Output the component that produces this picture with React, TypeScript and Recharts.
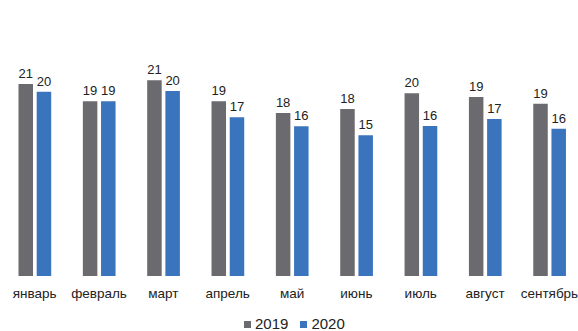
import React from "react";
import { BarChart, Bar, XAxis, YAxis, LabelList } from "recharts";

const months = ["январь", "февраль", "март", "апрель", "май", "июнь", "июль", "август", "сентябрь"];
const values2019 = [20.76, 18.89, 21.16, 18.89, 17.62, 18.05, 19.75, 19.35, 18.63];
const values2020 = [19.92, 18.89, 20.0, 17.16, 16.18, 15.21, 16.22, 16.97, 15.92];
const seriesNames = ["2019", "2020"];
const colors = ["#6b6b6f", "#3a74bd"];

const data = months.map((m, i) => ({ month: m, y2019: values2019[i], y2020: values2020[i] }));

const fmt = (v: any) => Math.round(Number(v)).toString();
const FONT = "'Liberation Sans', Arial, sans-serif";

export default function App() {
  return (
    <div style={{ position: "absolute", left: 0, top: 0, width: 578, height: 331, overflow: "hidden", background: "#fff" }}>
      <BarChart
        width={590}
        height={331}
        data={data}
        margin={{ top: 44.75, right: 8.4, bottom: 25, left: 2.5 }}
        barSize={14.5}
        barGap={3.7}
      >
        <XAxis
          dataKey="month"
          axisLine={false}
          tickLine={false}
          height={30}
          tickMargin={6}
          interval={0}
          tick={{ fontSize: 13.5, fill: "#222", fontFamily: FONT }}
        />
        <YAxis hide domain={[0, 25]} />
        <Bar dataKey="y2019" name="2019" fill={colors[0]} isAnimationActive={false}>
          <LabelList dataKey="y2019" position="top" offset={6} formatter={fmt}
            style={{ fontSize: 13, fill: "#222", fontFamily: FONT }} />
        </Bar>
        <Bar dataKey="y2020" name="2020" fill={colors[1]} isAnimationActive={false}>
          <LabelList dataKey="y2020" position="top" offset={6} formatter={fmt}
            style={{ fontSize: 13, fill: "#222", fontFamily: FONT }} />
        </Bar>
      </BarChart>
      <div style={{ position: "absolute", left: 244, top: 315, height: 18, display: "flex", alignItems: "center", fontFamily: FONT, fontSize: 15, lineHeight: "18px", color: "#222" }}>
        {seriesNames.map((n, i) => (
          <span key={n} style={{ display: "flex", alignItems: "center", marginRight: i === 0 ? 12 : 0 }}>
            <span style={{ display: "inline-block", width: 7, height: 7, background: colors[i], marginRight: 4 }} />
            {n}
          </span>
        ))}
      </div>
    </div>
  );
}
